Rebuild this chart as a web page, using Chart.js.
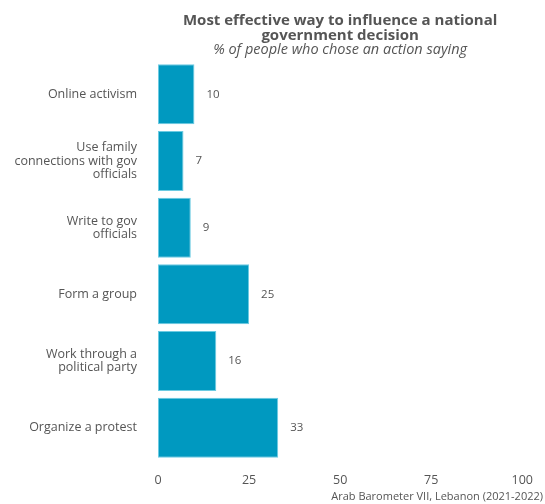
<!DOCTYPE html>
<html>
<head>
<meta charset="utf-8">
<script src="https://cdn.jsdelivr.net/npm/chart.js@4.4.1/dist/chart.umd.min.js"></script>
<style>
  html, body { margin: 0; padding: 0; background: #fff; }
  #wrap { width: 545px; height: 504px; }
</style>
</head>
<body>
<div id="wrap"><canvas id="chart"></canvas></div>
<script>
// data
const categories = [
    'Online activism',
    ['Use family', 'connections with gov', 'officials'],
    ['Write to gov', 'officials'],
    'Form a group',
    ['Work through a', 'political party'],
    'Organize a protest'
];
const values = [10, 7, 9, 25, 16, 33];
const xTicks = [0, 25, 50, 75, 100];

const FONT = "'Open Sans', sans-serif";
const GREY = '#555555';

// draws the number to the right of each bar
const valueLabels = {
    id: 'valueLabels',
    afterDatasetsDraw(chart) {
        const ctx = chart.ctx;
        const meta = chart.getDatasetMeta(0);
        ctx.save();
        ctx.font = '11.5px ' + FONT;
        ctx.fillStyle = GREY;
        ctx.textAlign = 'left';
        ctx.textBaseline = 'middle';
        meta.data.forEach(function(bar, i) {
            ctx.fillText(values[i], bar.x + 12, bar.y);
        });
        ctx.restore();
    }
};

const ctx = document.getElementById('chart').getContext('2d');
new Chart(ctx, {
    type: 'bar',
    data: {
        labels: categories,
        datasets: [{
            data: values,
            backgroundColor: '#0099c0',
            borderColor: '#6ccbe2',
            borderWidth: 1,
            borderSkipped: false,
            categoryPercentage: 0.9,
            barPercentage: 1.0
        }]
    },
    options: {
        indexAxis: 'y',
        responsive: true,
        maintainAspectRatio: false,
        animation: false,
        layout: { padding: { top: 14, right: 6, bottom: 4, left: 0 } },
        scales: {
            x: {
                min: 0,
                max: 100,
                afterBuildTicks: function(scale) {
                    scale.ticks = xTicks.map(function(v) { return { value: v }; });
                },
                grid: { display: false, drawTicks: false },
                border: { display: false },
                ticks: { color: GREY, font: { family: FONT, size: 12.5 }, padding: 12 }
            },
            y: {
                grid: { display: false, drawTicks: false },
                border: { display: false },
                ticks: { color: GREY, font: { family: FONT, size: 12.5, lineHeight: 1.05 }, padding: 21 },
                afterFit: function(scale) { scale.width = 158; }
            }
        },
        plugins: {
            legend: { display: false },
            tooltip: { enabled: false },
            title: {
                display: true,
                fullSize: false,
                text: ['Most effective way to influence a national', 'government decision'],
                color: GREY,
                font: { family: FONT, size: 15, weight: 'bold', lineHeight: 0.95 },
                padding: { top: 0, bottom: 0 }
            },
            subtitle: {
                display: true,
                fullSize: false,
                text: '% of people who chose an action saying',
                color: GREY,
                font: { family: FONT, size: 14.5, style: 'italic', lineHeight: 1.0 },
                padding: { top: 0, bottom: 4 }
            }
        }
    },
    plugins: [valueLabels, {
        // source line, bottom right
        id: 'sourceNote',
        afterDraw(chart) {
            const c = chart.ctx;
            c.save();
            c.font = '11px ' + FONT;
            c.fillStyle = GREY;
            c.textAlign = 'right';
            c.textBaseline = 'middle';
            c.fillText('Arab Barometer VII, Lebanon (2021-2022)', chart.width - 2, chart.height - 7);
            c.restore();
        }
    }]
});
</script>
</body>
</html>
